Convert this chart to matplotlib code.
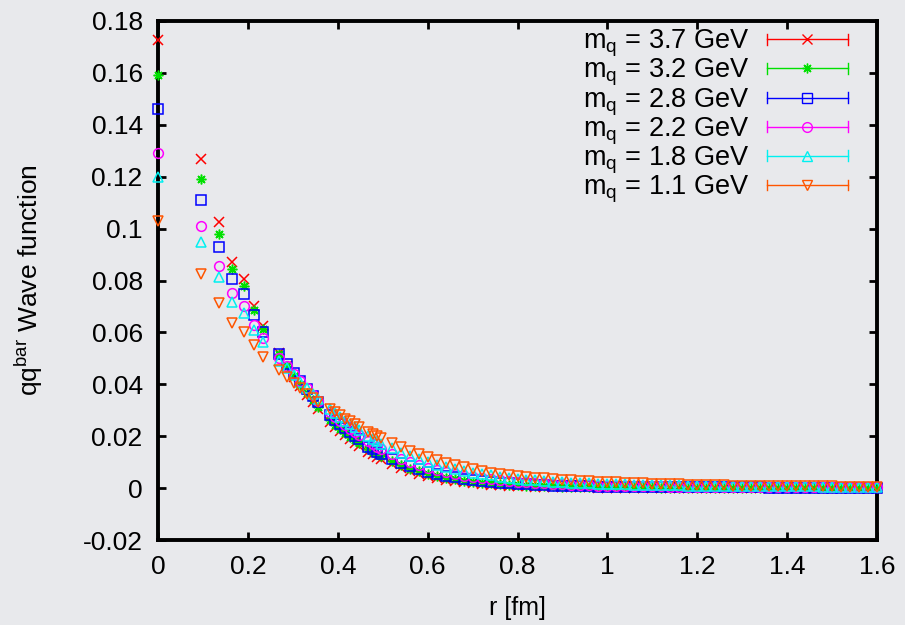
import matplotlib
matplotlib.use('Agg')

import matplotlib.pyplot as plt
from matplotlib.lines import Line2D
from matplotlib.legend_handler import HandlerLine2D
from matplotlib.ticker import FuncFormatter, MultipleLocator

plt.rcParams['font.family'] = ['Liberation Sans', 'DejaVu Sans']
plt.rcParams['mathtext.fontset'] = 'custom'
plt.rcParams['mathtext.rm'] = 'Liberation Sans'

# r [fm]: lattice distances up to 0.5 fm, then the tail
r = [0.0, 0.0955, 0.135, 0.165, 0.191, 0.2135, 0.234, 0.270, 0.2865, 0.302,
     0.317, 0.331, 0.344, 0.357, 0.382, 0.394, 0.405, 0.416, 0.427, 0.438,
     0.448, 0.468, 0.4775, 0.487, 0.496,
     0.52, 0.54, 0.56, 0.58, 0.60, 0.62, 0.64, 0.66, 0.68, 0.70,
     0.72, 0.74, 0.76, 0.78, 0.80, 0.82, 0.84, 0.86, 0.88, 0.90,
     0.92, 0.94, 0.96, 0.98, 1.00, 1.02, 1.04, 1.06, 1.08, 1.10,
     1.12, 1.14, 1.16, 1.18, 1.20, 1.22, 1.24, 1.26, 1.28, 1.30,
     1.32, 1.34, 1.36, 1.38, 1.40, 1.42, 1.44, 1.46, 1.48, 1.50,
     1.52, 1.54, 1.56, 1.58, 1.60]

wf_37 = [0.1726, 0.1268, 0.1025, 0.0871, 0.0805, 0.0701, 0.0624, 0.0520, 0.0470, 0.0430,
         0.0393, 0.0360, 0.0331, 0.0305, 0.0255, 0.0236, 0.0219, 0.0203, 0.0188, 0.0174,
         0.0162, 0.0140, 0.0130, 0.0121, 0.0113,
         0.0093, 0.0078, 0.0065, 0.0055, 0.0046, 0.0039, 0.0032, 0.0027, 0.0023, 0.0019,
         0.0016, 0.0013, 0.0011, 0.0009, 0.0008, 0.0007, 0.0006, 0.0005, 0.0004, 0.0004,
         0.0003, 0.0003, 0.0003, 0.0002, 0.0002, 0.0002, 0.0002, 0.0002, 0.0002, 0.0002,
         0.0001, 0.0001, 0.0001, 0.0001, 0.0001, 0.0001, 0.0001, 0.0001, 0.0001, 0.0001,
         0.0001, 0.0001, 0.0001, 0.0001, 0.0001, 0.0001, 0.0001, 0.0001, 0.0001, 0.0001,
         0.0001, 0.0001, 0.0001, 0.0001, 0.0001]

wf_32 = [0.159, 0.119, 0.0978, 0.0843, 0.0778, 0.0686, 0.0612, 0.0518, 0.0470, 0.0433,
         0.0398, 0.0367, 0.0339, 0.0313, 0.0262, 0.0244, 0.0228, 0.0212, 0.0198, 0.0184,
         0.0172, 0.0150, 0.0141, 0.0132, 0.0124,
         0.0103, 0.0088, 0.0075, 0.0064, 0.0054, 0.0046, 0.0039, 0.0034, 0.0029, 0.0025,
         0.0021, 0.0018, 0.0015, 0.0013, 0.0011, 0.0010, 0.0009, 0.0008, 0.0007, 0.0006,
         0.0005, 0.0005, 0.0004, 0.0004, 0.0003, 0.0003, 0.0003, 0.0003, 0.0003, 0.0003,
         0.0002, 0.0002, 0.0002, 0.0002, 0.0002, 0.0002, 0.0002, 0.0002, 0.0002, 0.0002,
         0.0002, 0.0002, 0.0001, 0.0001, 0.0001, 0.0001, 0.0001, 0.0001, 0.0001, 0.0001,
         0.0001, 0.0001, 0.0001, 0.0001, 0.0001]

wf_28 = [0.146, 0.111, 0.0928, 0.0805, 0.0748, 0.0667, 0.0600, 0.0515, 0.0478, 0.0445,
         0.0412, 0.0382, 0.0355, 0.0330, 0.0280, 0.0262, 0.0246, 0.0231, 0.0216, 0.0202,
         0.0190, 0.0160, 0.0150, 0.0141, 0.0133,
         0.0112, 0.0097, 0.0084, 0.0073, 0.0063, 0.0055, 0.0048, 0.0042, 0.0036, 0.0032,
         0.0028, 0.0024, 0.0021, 0.0018, 0.0016, 0.0014, 0.0012, 0.0011, 0.0010, 0.0009,
         0.0008, 0.0007, 0.0007, 0.0006, 0.0006, 0.0005, 0.0005, 0.0005, 0.0005, 0.0004,
         0.0004, 0.0004, 0.0004, 0.0004, 0.0003, 0.0003, 0.0003, 0.0003, 0.0003, 0.0003,
         0.0003, 0.0003, 0.0002, 0.0002, 0.0002, 0.0002, 0.0002, 0.0002, 0.0002, 0.0002,
         0.0002, 0.0002, 0.0002, 0.0002, 0.0002]

wf_22 = [0.129, 0.101, 0.0855, 0.0751, 0.0701, 0.0628, 0.0580, 0.0500, 0.0470, 0.0440,
         0.0412, 0.0385, 0.0360, 0.0337, 0.0292, 0.0274, 0.0258, 0.0243, 0.0229, 0.0215,
         0.0203, 0.0180, 0.0170, 0.0160, 0.0152,
         0.0130, 0.0114, 0.0100, 0.0088, 0.0078, 0.0069, 0.0061, 0.0054, 0.0048, 0.0043,
         0.0038, 0.0034, 0.0030, 0.0027, 0.0024, 0.0022, 0.0020, 0.0018, 0.0016, 0.0014,
         0.0013, 0.0012, 0.0011, 0.0010, 0.0009, 0.0009, 0.0008, 0.0008, 0.0007, 0.0007,
         0.0007, 0.0006, 0.0006, 0.0006, 0.0006, 0.0005, 0.0005, 0.0005, 0.0005, 0.0005,
         0.0004, 0.0004, 0.0004, 0.0004, 0.0004, 0.0004, 0.0004, 0.0003, 0.0003, 0.0003,
         0.0003, 0.0003, 0.0003, 0.0003, 0.0003]

wf_18 = [0.120, 0.095, 0.0813, 0.0717, 0.0674, 0.0609, 0.0563, 0.0490, 0.0462, 0.0436,
         0.0410, 0.0387, 0.0364, 0.0343, 0.0306, 0.0290, 0.0275, 0.0260, 0.0247, 0.0234,
         0.0223, 0.0200, 0.0190, 0.0180, 0.0171,
         0.0153, 0.0137, 0.0123, 0.0111, 0.0100, 0.0090, 0.0081, 0.0073, 0.0066, 0.0060,
         0.0054, 0.0049, 0.0044, 0.0040, 0.0036, 0.0033, 0.0030, 0.0027, 0.0025, 0.0023,
         0.0021, 0.0019, 0.0018, 0.0017, 0.0016, 0.0015, 0.0014, 0.0013, 0.0013, 0.0012,
         0.0012, 0.0011, 0.0011, 0.0010, 0.0010, 0.0010, 0.0009, 0.0009, 0.0009, 0.0008,
         0.0008, 0.0008, 0.0008, 0.0007, 0.0007, 0.0007, 0.0007, 0.0007, 0.0006, 0.0006,
         0.0006, 0.0006, 0.0006, 0.0006, 0.0006]

wf_11 = [0.103, 0.0824, 0.0712, 0.0636, 0.0602, 0.0551, 0.0505, 0.0455, 0.0430, 0.0405,
         0.0385, 0.0364, 0.0347, 0.0331, 0.0305, 0.0292, 0.0280, 0.0268, 0.0257, 0.0246,
         0.0236, 0.0217, 0.0208, 0.0200, 0.0192,
         0.0174, 0.0158, 0.0143, 0.0130, 0.0118, 0.0107, 0.0097, 0.0088, 0.0080, 0.0073,
         0.0066, 0.0060, 0.0055, 0.0051, 0.0047, 0.0043, 0.0040, 0.0037, 0.0034, 0.0032,
         0.0030, 0.0028, 0.0026, 0.0024, 0.0023, 0.0022, 0.0021, 0.0019, 0.0018, 0.0017,
         0.0016, 0.0015, 0.0014, 0.0013, 0.0012, 0.0012, 0.0011, 0.0011, 0.0010, 0.0010,
         0.0009, 0.0009, 0.0009, 0.0008, 0.0008, 0.0008, 0.0007, 0.0007, 0.0007, 0.0007,
         0.0006, 0.0006, 0.0006, 0.0006, 0.0006]

masses = ['3.7', '3.2', '2.8', '2.2', '1.8', '1.1']
series = [wf_37, wf_32, wf_28, wf_22, wf_18, wf_11]
colors = ['#ff0000', '#00e000', '#0000ff', '#ff00ff', '#00f0f0', '#ff5500']
markers = ['x', (8, 2, 0), 's', 'o', '^', 'v']

bg = '#e8e9ec'


class CapHandler(HandlerLine2D):
    # gnuplot-like errorbar key: line with end caps
    def create_artists(self, legend, orig_handle, xdescent, ydescent,
                       width, height, fontsize, trans):
        arts = super().create_artists(legend, orig_handle, xdescent, ydescent,
                                      width, height, fontsize, trans)
        y = (height - ydescent) / 2
        c = 0.2 * fontsize
        for x in (-xdescent, -xdescent + width):
            cap = Line2D([x, x], [y - c, y + c], color=orig_handle.get_color(), lw=1.0)
            cap.set_transform(trans)
            arts.append(cap)
        return arts


fig = plt.figure(figsize=(9.05, 6.25), dpi=100, facecolor=bg)
ax = fig.add_axes([158 / 905, 1 - 540 / 625, 719 / 905, 519 / 625])
ax.set_facecolor(bg)

handles = []
for i, (vals, c, m) in enumerate(zip(series, colors, markers)):
    ax.plot(r, vals, ls='none', marker=m, ms=7, mfc='none', mec=c, mew=1.1,
            clip_on=False, zorder=3 + i)
    handles.append(Line2D([], [], color=c, lw=1.0, marker=m, ms=7, mfc='none', mec=c, mew=1.0))

labels = [r'$\mathregular{m_q}$ = %s GeV' % m for m in masses]

ax.set_xlim(0, 1.6)
ax.set_ylim(-0.02, 0.18)
ax.xaxis.set_major_locator(MultipleLocator(0.2))
ax.yaxis.set_major_locator(MultipleLocator(0.02))
fmt = FuncFormatter(lambda v, p: '%g' % round(v, 4))
ax.xaxis.set_major_formatter(fmt)
ax.yaxis.set_major_formatter(fmt)

for s in ax.spines.values():
    s.set_linewidth(2.8)
ax.tick_params(direction='in', length=6, width=2, top=True, right=True,
               labelsize=19, pad=11)

ax.set_xlabel('r [fm]', fontsize=18, labelpad=12)
ax.set_ylabel(r'qq$^{\mathregular{bar}}$ Wave function', fontsize=19, labelpad=27)

leg = ax.legend(handles, labels, loc='upper right', bbox_to_anchor=(848 / 905, 1 - 28 / 625),
                bbox_transform=fig.transFigure, frameon=False, markerfirst=False,
                numpoints=1, fontsize=19.5, handlelength=3.0, handletextpad=0.65,
                labelspacing=-0.08, borderpad=0, borderaxespad=0,
                handler_map={Line2D: CapHandler()})

fig.savefig('out.png', dpi=100, facecolor=bg)
